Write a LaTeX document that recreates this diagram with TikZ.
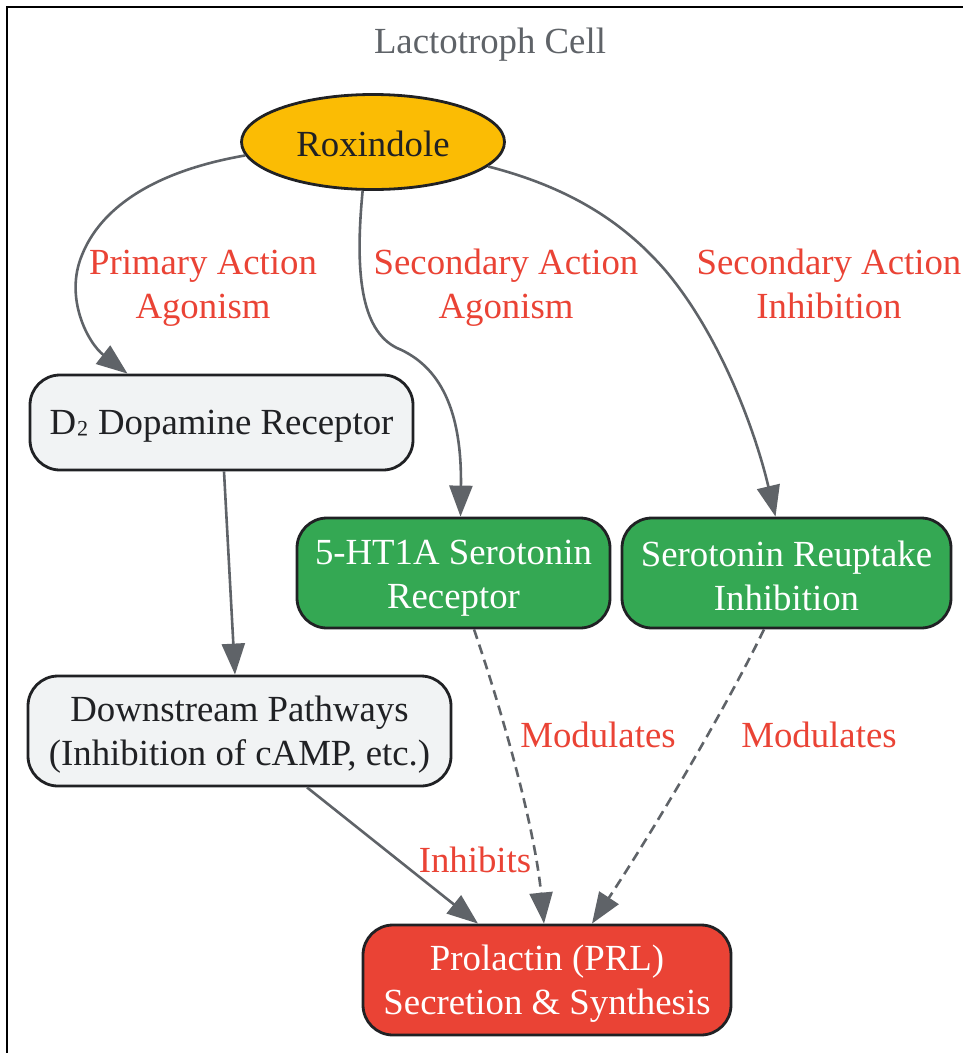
\documentclass[tikz,border=0pt]{standalone}
\usepackage{fontspec}
\setmainfont{Liberation Serif}
\usetikzlibrary{arrows.meta,shapes.geometric,calc}
\definecolor{cyellow}{HTML}{FBBC04}
\definecolor{cgreen}{HTML}{34A853}
\definecolor{cred}{HTML}{EA4335}
\definecolor{clight}{HTML}{F1F3F4}
\definecolor{cedge}{HTML}{5F6368}
\definecolor{cdark}{HTML}{202124}
\begin{document}
\begin{tikzpicture}[x=1pt,y=-1pt,
  font=\fontsize{36.8}{44}\selectfont,
  box/.style={draw=cdark, line width=2.8pt, rounded corners=30pt, inner sep=0pt},
  btext/.style={align=center, inner sep=0pt},
  lbl/.style={text=cred, align=center, inner sep=0pt},
  edge/.style={draw=cedge, line width=2.6pt, -{Triangle[length=31pt,width=23pt]}},
  dedge/.style={edge, dash pattern=on 10pt off 6pt}]
\useasboundingbox (0,0) rectangle (962,1053);
\draw[line width=2.8pt, black] (7,1070) -- (7,7) -- (980,7);
\node[text=cedge, inner sep=0pt] (title) at (490,45) {Lactotroph Cell};

\node[ellipse, draw=cdark, line width=2.8pt, fill=cyellow, minimum width=263pt, minimum height=95pt, inner sep=0pt] (rox) at (373,142) {};
\node[btext, text=cdark] (roxt) at (373,144) {Roxindole};
\node[box, fill=clight, minimum width=383pt, minimum height=95pt] (d2) at (221.5,422.5) {};
\node[btext, text=cdark] (d2t) at (221.5,426) {D\raisebox{6pt}{₂} Dopamine Receptor};
\node[box, fill=cgreen, minimum width=313pt, minimum height=110pt] (ht) at (453.5,573) {};
\node[btext, text=white] (htt) at (453.5,578) {5-HT1A Serotonin\\Receptor};
\node[box, fill=cgreen, minimum width=329pt, minimum height=110pt] (reup) at (786.5,573) {};
\node[btext, text=white] (reupt) at (786.5,576) {Serotonin Reuptake\\Inhibition};
\node[box, fill=clight, minimum width=423pt, minimum height=110pt] (ds) at (239.5,731) {};
\node[btext, text=cdark] (dst) at (239.5,735) {Downstream Pathways\\(Inhibition of cAMP, etc.)};
\node[box, fill=cred, minimum width=368pt, minimum height=110pt] (prl) at (547,980) {};
\node[btext, text=white] (prlt) at (547,984) {Prolactin (PRL)\\Secretion \& Synthesis};

\draw[edge] (rox.186) .. controls (150,172) and (100,210) .. (82,255) .. controls (64,298) and (88,343) .. ($(d2.north)+(-94,0)$);
\draw[edge] (rox.258) .. controls (355,270) and (360,330) .. (397,348) .. controls (440,366) and (462,410) .. ($(ht.north)+(7,0)$);
\draw[edge] (rox.348) .. controls (580,190) and (630,230) .. (665,270) .. controls (720,335) and (755,430) .. ($(reup.north)+(-11,0)$);
\draw[edge] ($(d2.south)+(2.5,0)$) -- ($(ds.north)+(-4.5,0)$);
\draw[dedge] ($(ht.south)+(20.5,0)$) .. controls (505,720) and (535,830) .. ($(prl.north)+(-3,0)$);
\draw[dedge] ($(reup.south)+(-22.5,0)$) .. controls (730,700) and (660,820) .. ($(prl.north)+(45,0)$);
\draw[edge] ($(ds.south)+(67.5,0)$) -- ($(prl.north)+(-69,0)$);

\node[lbl] (l1) at (203,288) {Primary Action\\Agonism};
\node[lbl] (l2) at (506,288) {Secondary Action\\Agonism};
\node[lbl] (l3) at (829,284) {Secondary Action\\Inhibition};
\node[lbl] (l4) at (598,735) {Modulates};
\node[lbl] (l5) at (819,735) {Modulates};
\node[lbl] (l6) at (475,860) {Inhibits};
\end{tikzpicture}
\end{document}
